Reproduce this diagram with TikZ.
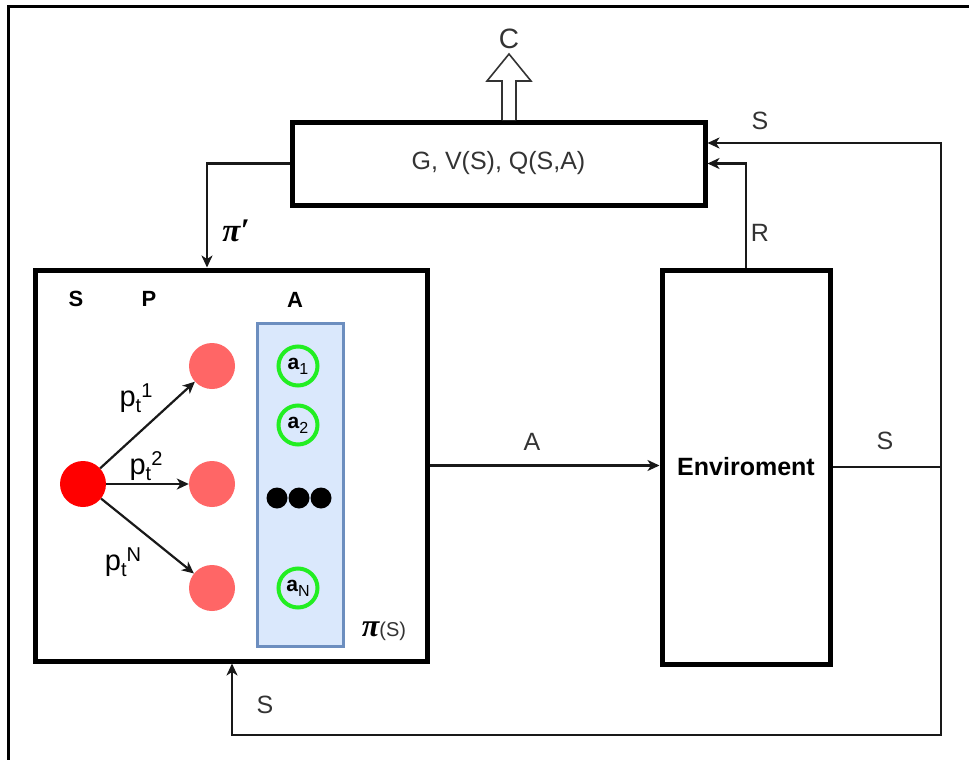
\documentclass[tikz,border=0pt]{standalone}
\usepackage{fontspec}
\setmainfont{Liberation Sans}
\newfontfamily\pifont{Liberation Serif}
\usetikzlibrary{arrows.meta,calc}
\definecolor{txt}{HTML}{333333}
\definecolor{bluefill}{HTML}{DAE8FC}
\definecolor{bluedraw}{HTML}{6C8EBF}
\definecolor{pinkc}{HTML}{FF6666}
\definecolor{greenc}{HTML}{22EE22}
\newcommand{\ptl}[1]{p\raisebox{-6pt}{\fontsize{20}{20}\selectfont t}\raisebox{9pt}{\fontsize{20}{20}\selectfont #1}}
\newcommand{\actl}[1]{\textbf{a}\raisebox{-5pt}{\fontsize{16}{16}\selectfont #1}}
\begin{document}
\begin{tikzpicture}[x=1pt,y=-1pt,
  bigbox/.style={draw=black,line width=5pt,fill=white,inner sep=0pt},
  conn/.style={draw=black!90,line width=2.2pt,-{Stealth[length=12pt,width=11pt,inset=3.5pt]}},
  plain/.style={draw=black!90,line width=2.2pt},
  lbl/.style={text=txt,font=\fontsize{25}{28}\selectfont,inner sep=0pt},
  hdr/.style={text=black,font=\fontsize{22}{26}\selectfont\bfseries,inner sep=0pt},
  plbl/.style={text=black,font=\fontsize{29}{30}\selectfont,inner sep=0pt},
  dot/.style={circle,fill=black,minimum size=21pt,inner sep=0pt},
  statec/.style={circle,minimum size=46pt,inner sep=0pt},
  actc/.style={circle,draw=greenc,line width=4pt,minimum size=39pt,inner sep=0pt,font=\fontsize{21}{23}\selectfont}
]
\useasboundingbox (0,0) rectangle (969,760);
% outer frame
\draw[line width=3pt] (8,790) -- (8,7) -- (990,7);

% main boxes
\node[bigbox,minimum width=413pt,minimum height=83pt,lbl] (eval) at (498.5,163.5) {G, V(S), Q(S,A)};
\node[bigbox,minimum width=392pt,minimum height=391pt] (policy) at (231,465.5) {};
\node[bigbox,minimum width=168pt,minimum height=394pt,font=\fontsize{25}{28}\selectfont\bfseries] (env) at (746,467) {Enviroment};

% hollow output arrow
\node[lbl,font=\fontsize{28}{30}\selectfont] (C) at (509,39) {C};
\draw[draw=black!80,line width=1.6pt,fill=white] (502,120) -- (502,81) -- (487,81) -- (509,54) -- (531,81) -- (516,81) -- (516,120);

% inside policy box
\node[hdr] (hS) at (76,299) {S};
\node[hdr] (hP) at (149,299) {P};
\node[hdr] (hA) at (295,300) {A};
\node[draw=bluedraw,fill=bluefill,line width=3pt,minimum width=86pt,minimum height=323pt,inner sep=0pt] (alist) at (300,484.5) {};

\node[statec,fill=red] (s0) at (83,484) {};
\node[statec,fill=pinkc] (p1) at (212,366) {};
\node[statec,fill=pinkc] (p2) at (212,484) {};
\node[statec,fill=pinkc] (pN) at (212,588) {};

\draw[conn] (s0) -- (p1);
\draw[conn] (s0) -- (p2);
\draw[conn] (s0) -- (pN);

\node[plbl] (l1) at (136,398) {\ptl{1}};
\node[plbl] (l2) at (146,466) {\ptl{2}};
\node[plbl] (lN) at (123,562) {\ptl{N}};

\node[actc] (a1) at (298,366) {\actl{1}};
\node[actc] (a2) at (298,425) {\actl{2}};
\node[actc] (aN) at (298,588) {\actl{N}};
\node[dot] (d1) at (277,498) {};
\node[dot] (d2) at (299,498) {};
\node[dot] (d3) at (321,498) {};

\node[inner sep=0pt] (piS) at (384,631) {{\pifont\fontsize{32}{32}\selectfont\bfseries\itshape π}{\color{txt}\fontsize{20}{24}\selectfont(S)}};

% connectors
\draw[conn] (eval.west) -| ([xshift=-24pt]policy.north);
\node[inner sep=0pt] (pip) at (236,231) {\pifont\fontsize{33}{33}\selectfont\bfseries\itshape π′};

\draw[conn] (policy.east) -- (policy.east -| env.west);
\node[lbl] (lA) at (532,442) {A};

\coordinate (rt) at (941,467);
\coordinate (rb) at (941,735);
\draw[plain] (env.east) -- (rt);
\node[lbl] (lS1) at (885,441) {S};
\draw[conn] (rt) |- ([yshift=20.5pt]eval.east);
\node[lbl] (lS2) at (760,121) {S};
\draw[conn] (rt) -- (rb) -| ([xshift=1pt]policy.south);
\node[lbl] (lS3) at (265,705) {S};

\draw[conn] (env.north) |- (eval.east);
\node[lbl] (lR) at (760,233) {R};
\end{tikzpicture}
\end{document}
